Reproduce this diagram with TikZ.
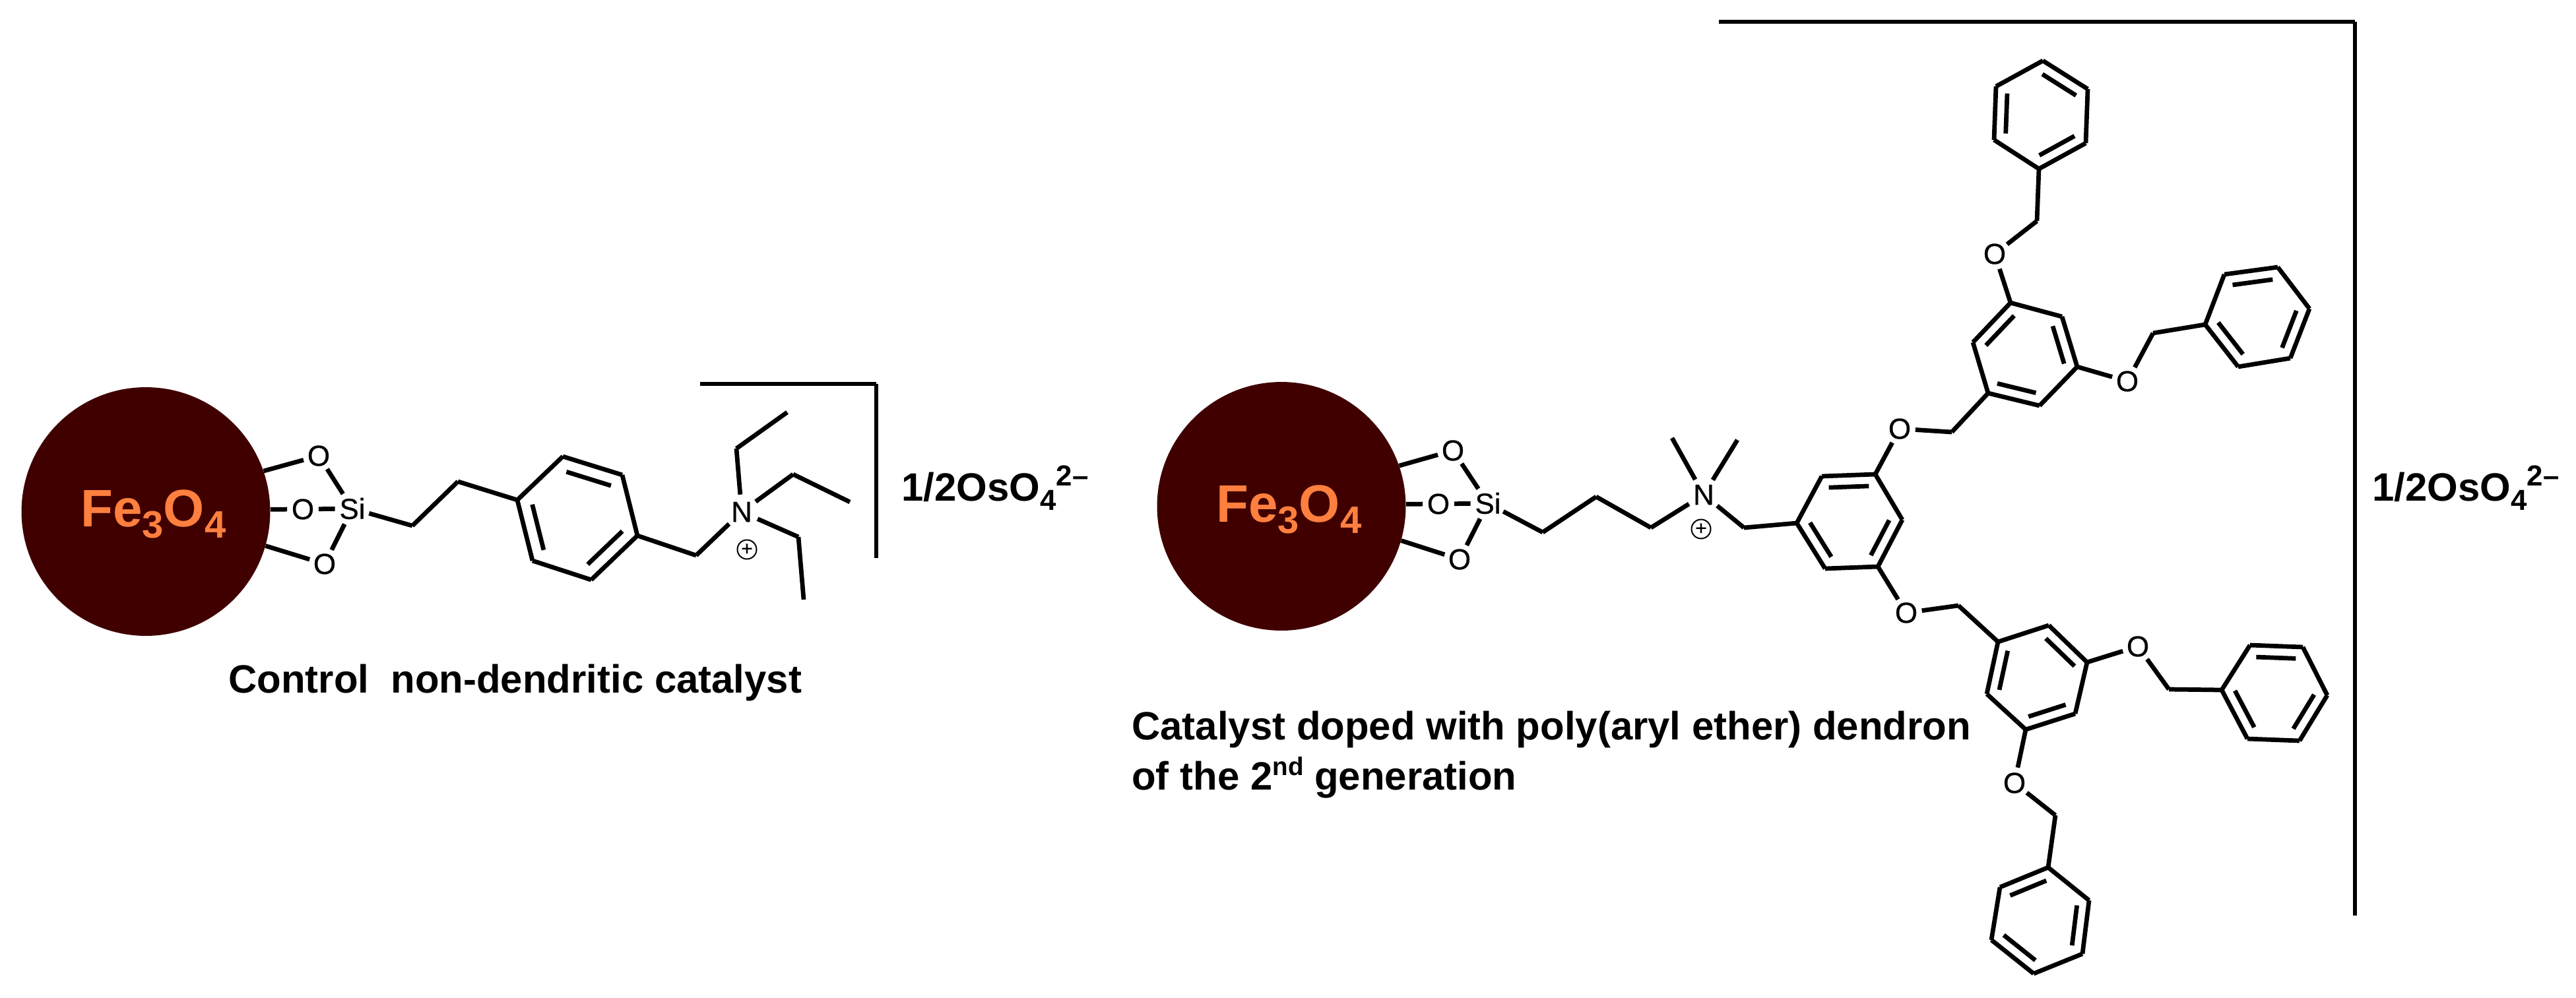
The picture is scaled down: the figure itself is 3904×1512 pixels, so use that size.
\documentclass[tikz,border=0pt]{standalone}
\usepackage{fontspec}
\setmainfont{Liberation Sans}
\newfontfamily\atomfont[FakeBold=0.6]{Liberation Sans}
\usetikzlibrary{calc}
\definecolor{corecol}{RGB}{64,0,0}
\definecolor{fecol}{RGB}{255,127,63}
\tikzset{
  bond/.style={line width=0.135cm,line cap=butt,black},
  brack/.style={line width=0.105cm,line cap=butt,black},
  atom/.style={circle,inner sep=0pt,minimum size=0.94cm,font=\atomfont\fontsize{25}{25}\selectfont},
  atomw/.style={atom,minimum size=1.04cm},
  particle/.style={circle,inner sep=0pt,minimum size=7.54cm,fill=corecol,draw=none},
  charge/.style={circle,draw=black,line width=0.04cm,inner sep=0pt,minimum size=0.58cm,font=\atomfont\fontsize{17}{17}\selectfont},
  label/.style={anchor=base west,inner sep=0pt,font=\fontsize{34.1}{40}\selectfont\bfseries},
  felabel/.style={anchor=base west,inner sep=0pt,text=fecol,font=\fontsize{45.5}{50}\selectfont\bfseries}
}
% six ring vertices, then the edges that carry an inner double-bond line
\newcommand{\ringat}[8]{%
  \coordinate (#11) at #2; \coordinate (#12) at #3; \coordinate (#13) at #4;
  \coordinate (#14) at #5; \coordinate (#15) at #6; \coordinate (#16) at #7;
  \coordinate (#1c) at (barycentric cs:#11=1,#12=1,#13=1,#14=1,#15=1,#16=1);
  \draw[bond] (#11)--(#12); \draw[bond] (#12)--(#13); \draw[bond] (#13)--(#14);
  \draw[bond] (#14)--(#15); \draw[bond] (#15)--(#16); \draw[bond] (#16)--(#11);
  \foreach \i/\j in {#8}{\draw[bond] ($(#1\i)!.25!(#1c)$)--($(#1\j)!.25!(#1c)$);}%
}
\newcommand{\osolabel}{1/2OsO\raisebox{-8pt}{\fontsize{25}{25}\selectfont 4}\raisebox{13pt}{\fontsize{25}{25}\selectfont 2–}}
\newcommand{\felabeltext}{Fe\raisebox{-9.7pt}{\fontsize{33}{33}\selectfont 3}O\raisebox{-9.7pt}{\fontsize{33}{33}\selectfont 4}}
\begin{document}
\begin{tikzpicture}[x=0.02cm,y=-0.02cm]
\fill[white] (0,0) rectangle (3904,1512);
\useasboundingbox (0,0) rectangle (3904,1512);

% ---------- left catalyst ----------
\node[particle] (pl) at (221,775.5) {};
\node[felabel] (fel) at (122,798) {\felabeltext};
\node[atom] (lo1) at (483,691) {O};
\node[atom] (lo2) at (459,772) {O};
\node[atom] (lo3) at (492,855) {O};
\node[atomw] (lsi) at (534,771) {Si};
\draw[bond] (pl.19)--(lo1);
\draw[bond] (pl.1)--(lo2);
\draw[bond] (pl.-16)--(lo3);
\draw[bond] (lo1)--(lsi);
\draw[bond] (lo2)--(lsi);
\draw[bond] (lo3)--(lsi);
\coordinate (lc1) at (625,797);
\coordinate (lc2) at (694,730);
\ringat{ra}{(784,758)}{(853,692)}{(943,720)}{(966,812)}{(896,879)}{(807,850)}{2/3,4/5,6/1}
\draw[bond] (lsi)--(lc1);
\draw[bond] (lc1)--(lc2);
\draw[bond] (lc2)--(ra1);
\coordinate (lc3) at (1055,842);
\node[atomw] (ln) at (1124,776) {N};
\node[charge] (lp) at (1132,833) {+};
\coordinate (le1) at (1116,680);
\coordinate (le2) at (1193,625);
\coordinate (le3) at (1202,719);
\coordinate (le4) at (1288,761);
\coordinate (le5) at (1210,814);
\coordinate (le6) at (1218,909);
\draw[bond] (ra4)--(lc3);
\draw[bond] (lc3)--(ln);
\draw[bond] (ln)--(le1);
\draw[bond] (le1)--(le2);
\draw[bond] (ln)--(le3);
\draw[bond] (le3)--(le4);
\draw[bond] (ln)--(le5);
\draw[bond] (le5)--(le6);
\coordinate (lb1) at (1061,582);
\coordinate (lb2) at (1328,582);
\coordinate (lb3) at (1328,846);
\draw[brack] (lb1)--(lb2);
\draw[brack] (lb2)--(lb3);
\node[label] (losm) at (1366,759) {\osolabel};
\node[label] (lcap) at (346,1050) {Control\ \ non-dendritic catalyst};

% ---------- right catalyst ----------
\node[particle] (pr) at (1942,767.5) {};
\node[felabel] (fer) at (1843,791) {\felabeltext};
\node[atom] (ro1) at (2202,683) {O};
\node[atom] (ro2) at (2180,764) {O};
\node[atom] (ro3) at (2212,848) {O};
\node[atomw] (rsi) at (2255,763) {Si};
\draw[bond] (pr.19)--(ro1);
\draw[bond] (pr.1)--(ro2);
\draw[bond] (pr.-16)--(ro3);
\draw[bond] (ro1)--(rsi);
\draw[bond] (ro2)--(rsi);
\draw[bond] (ro3)--(rsi);
\coordinate (rc1) at (2338,807);
\coordinate (rc2) at (2419,753);
\coordinate (rc3) at (2502,800);
\node[atomw] (rn) at (2582,750) {N};
\node[charge] (rp) at (2578,802) {+};
\coordinate (rm1) at (2534,664);
\coordinate (rm2) at (2633,667);
\coordinate (rc4) at (2643,800);
\draw[bond] (rsi)--(rc1);
\draw[bond] (rc1)--(rc2);
\draw[bond] (rc2)--(rc3);
\draw[bond] (rc3)--(rn);
\draw[bond] (rn)--(rm1);
\draw[bond] (rn)--(rm2);
\draw[bond] (rn)--(rc4);

\ringat{rb}{(2723,793)}{(2761,722)}{(2842,719)}{(2883,788)}{(2846,859)}{(2766,862)}{2/3,4/5,6/1}
\draw[bond] (rc4)--(rb1);

% upper branch
\node[atom] (do1) at (2879,650) {O};
\coordinate (dc1) at (2958,655);
\ringat{rc}{(3013,596)}{(2990,519)}{(3047,459)}{(3125,480)}{(3148,556)}{(3091,615)}{2/3,4/5,6/1}
\draw[bond] (rb3)--(do1);
\draw[bond] (do1)--(dc1);
\draw[bond] (dc1)--(rc1);

\node[atom] (do2) at (3023,385) {O};
\coordinate (dc2) at (3087,335);
\ringat{rd}{(3090,256)}{(3161,217)}{(3164,135)}{(3096,92)}{(3025,131)}{(3022,212)}{1/2,3/4,5/6}
\draw[bond] (rc3)--(do2);
\draw[bond] (do2)--(dc2);
\draw[bond] (dc2)--(rd1);

\node[atom] (do3) at (3224,578) {O};
\coordinate (dc3) at (3263,505);
\ringat{re}{(3342,492)}{(3371,416)}{(3452,405)}{(3500,468)}{(3471,543)}{(3392,556)}{2/3,4/5,6/1}
\draw[bond] (rc5)--(do3);
\draw[bond] (do3)--(dc3);
\draw[bond] (dc3)--(re1);

% lower branch
\node[atom] (do4) at (2889,929) {O};
\coordinate (dc4) at (2968,918);
\ringat{rf}{(3028,973)}{(3105,948)}{(3163,1004)}{(3145,1082)}{(3070,1106)}{(3011,1052)}{2/3,4/5,6/1}
\draw[bond] (rb5)--(do4);
\draw[bond] (do4)--(dc4);
\draw[bond] (dc4)--(rf1);

\node[atom] (do5) at (3240,980) {O};
\coordinate (dc5) at (3287,1045);
\ringat{rg}{(3367,1046)}{(3410,978)}{(3490,981)}{(3527,1054)}{(3485,1123)}{(3406,1120)}{2/3,4/5,6/1}
\draw[bond] (rf3)--(do5);
\draw[bond] (do5)--(dc5);
\draw[bond] (dc5)--(rg1);

\node[atom] (do6) at (3053,1187) {O};
\coordinate (dc6) at (3115,1236);
\ringat{rh}{(3104,1315)}{(3166,1365)}{(3156,1446)}{(3082,1476)}{(3018,1425)}{(3031,1345)}{6/1,2/3,4/5}
\draw[bond] (rf5)--(do6);
\draw[bond] (do6)--(dc6);
\draw[bond] (dc6)--(rh1);

\coordinate (rb1c) at (2605,33);
\coordinate (rb2c) at (3569,33);
\coordinate (rb3c) at (3569,1388);
\draw[brack] (rb1c)--(rb2c);
\draw[brack] (rb2c)--(rb3c);
\node[label] (rosm) at (3595,759) {\osolabel};
\node[label] (rcap1) at (1715,1121) {Catalyst doped with poly(aryl ether) dendron};
\node[label] (rcap2) at (1715,1197) {of the 2\raisebox{12pt}{\fontsize{22}{22}\selectfont nd} generation};
\end{tikzpicture}
\end{document}
